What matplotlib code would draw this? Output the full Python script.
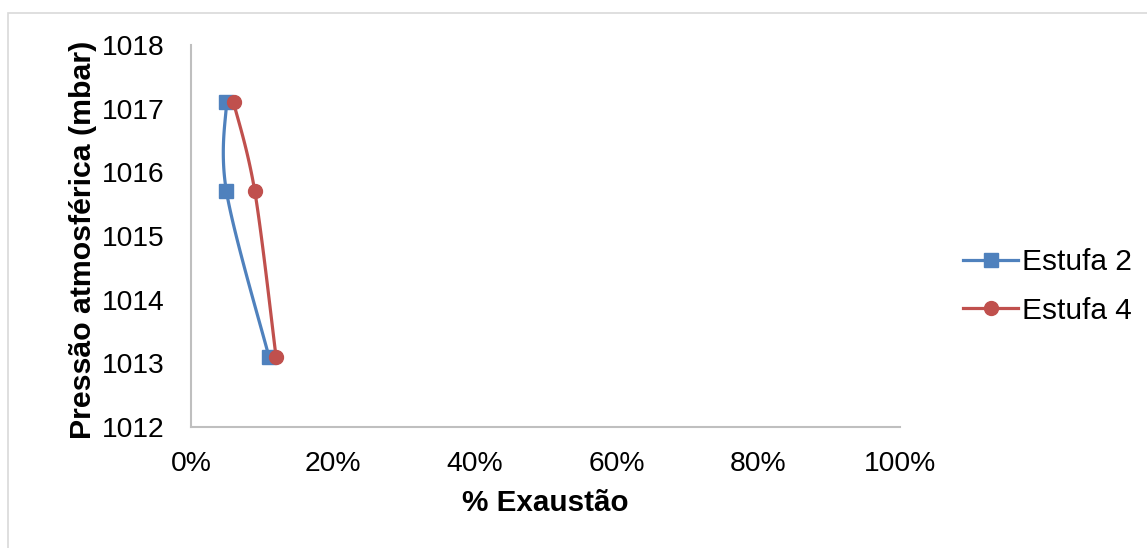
import numpy as np
import matplotlib.pyplot as plt
from matplotlib.patches import Rectangle
from matplotlib.ticker import PercentFormatter

plt.rcParams['font.family'] = ['Liberation Sans', 'DejaVu Sans']

# % exaustão (fração) e pressão atmosférica (mbar)
exaustao_e2 = [0.05, 0.05, 0.11]
pressao_e2 = [1017.1, 1015.7, 1013.1]
exaustao_e4 = [0.06, 0.09, 0.12]
pressao_e4 = [1017.1, 1015.7, 1013.1]

azul = '#4f81bd'
vermelho = '#c0504d'
cinza = '#bfbfbf'

fig = plt.figure(figsize=(11.47, 5.48), dpi=100)
ax = fig.add_axes([191 / 1147, 1 - 427 / 548, 709 / 1147, 382 / 548])

# moldura clara em volta do gráfico
fig.patches.append(Rectangle((8 / 1147, -0.05), 1.2, 1 - 13 / 548 + 0.05,
                             transform=fig.transFigure, fill=False,
                             edgecolor='#d9d9d9', linewidth=1.2))

ax.set_xlim(0, 1)
ax.set_ylim(1012, 1018)
ax.set_xticks(np.arange(0, 1.01, 0.2))
ax.set_yticks(range(1012, 1019))
ax.xaxis.set_major_formatter(PercentFormatter(1.0, decimals=0))


def suaviza(xs, ys, n=60):
    # curva suavizada tipo Excel (Bezier cúbica) calculada em pixels
    pts = ax.transData.transform(np.column_stack([xs, ys]))
    m = len(pts)
    out = []
    for i in range(m - 1):
        p0 = pts[i]
        p3 = pts[i + 1]
        prev = pts[i - 1] if i > 0 else pts[i]
        nxt = pts[i + 2] if i + 2 < m else pts[i + 1]
        c1 = p0 + (p3 - prev) / 6
        c2 = p3 - (nxt - p0) / 6
        t = np.linspace(0, 1, n)[:, None]
        seg = ((1 - t) ** 3 * p0 + 3 * (1 - t) ** 2 * t * c1
               + 3 * (1 - t) * t ** 2 * c2 + t ** 3 * p3)
        out.append(seg if i == 0 else seg[1:])
    out = ax.transData.inverted().transform(np.vstack(out))
    return out[:, 0], out[:, 1]


for xs, ys, cor, mk, nome in [(exaustao_e2, pressao_e2, azul, 's', 'Estufa 2'),
                              (exaustao_e4, pressao_e4, vermelho, 'o', 'Estufa 4')]:
    sx, sy = suaviza(xs, ys)
    ax.plot(sx, sy, color=cor, linewidth=2.3, solid_capstyle='round')
    ax.plot(xs, ys, linestyle='none', marker=mk, markersize=10, color=cor)
    ax.plot([], [], color=cor, linewidth=2.3, marker=mk, markersize=10, label=nome)

for lado in ['top', 'right']:
    ax.spines[lado].set_visible(False)
for lado in ['left', 'bottom']:
    ax.spines[lado].set_color(cinza)
    ax.spines[lado].set_linewidth(1.5)

ax.tick_params(axis='both', length=0, labelsize=20.3, colors='black')
ax.tick_params(axis='y', pad=19)
ax.tick_params(axis='x', pad=17)

ax.set_ylabel('Pressão atmosférica (mbar)', fontsize=21.8, fontweight='bold')
ax.yaxis.set_label_coords(-0.152, 0.49)
ax.set_xlabel('% Exaustão', fontsize=21.3, fontweight='bold')
ax.xaxis.set_label_coords(0.5, -0.2)
ax.xaxis.label.set_va('center')
ax.yaxis.label.set_va('center')

fig.legend(loc='center left', bbox_to_anchor=(963 / 1147, 1 - 286.5 / 548),
           frameon=False, fontsize=21.5, borderpad=0, borderaxespad=0,
           handlelength=1.85, handletextpad=0.13, labelspacing=0.7)

fig.savefig('out.png', dpi=100)
